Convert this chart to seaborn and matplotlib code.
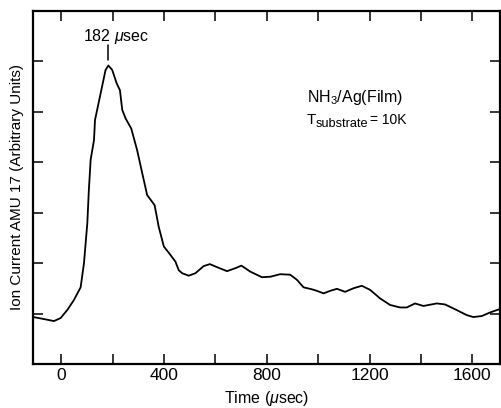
import numpy as np
import pandas as pd
import matplotlib
matplotlib.use("Agg")
import matplotlib.pyplot as plt
import seaborn as sns

# values (time in usec, ion current in arbitrary units)
time_us = [-109, -68, -29, -3, 23, 49, 75, 88, 101, 107, 114, 127, 131, 153, 172,
           183, 198, 215, 228, 237, 250, 272, 295, 315, 334, 363, 379, 399, 425,
           444, 457, 470, 496, 522, 554, 578, 606, 645, 678, 701, 736, 781, 814,
           852, 891, 917, 943, 976, 995, 1021, 1047, 1073, 1105, 1137, 1170, 1202,
           1241, 1280, 1319, 1345, 1377, 1410, 1462, 1494, 1539, 1578, 1604, 1637,
           1669, 1708]
ion_current = [0.93, 0.89, 0.85, 0.91, 1.07, 1.27, 1.52, 2.00, 2.79, 3.45, 4.05,
               4.44, 4.84, 5.37, 5.83, 5.92, 5.83, 5.57, 5.43, 5.04, 4.87, 4.67,
               4.24, 3.78, 3.35, 3.15, 2.72, 2.33, 2.16, 2.03, 1.86, 1.80, 1.75,
               1.80, 1.94, 1.98, 1.92, 1.84, 1.90, 1.95, 1.83, 1.72, 1.73, 1.78,
               1.77, 1.67, 1.52, 1.48, 1.45, 1.40, 1.45, 1.49, 1.43, 1.50, 1.55,
               1.47, 1.30, 1.17, 1.12, 1.12, 1.20, 1.15, 1.20, 1.18, 1.07, 0.97,
               0.93, 0.95, 1.02, 1.09]
x_ticks = [0, 400, 800, 1200, 1600]
x_minor = [200, 600, 1000, 1400]
y_ticks = [1, 2, 3, 4, 5, 6]
peak_time = 182

df = pd.DataFrame({"time": time_us, "current": ion_current})

sns.set_theme(style="ticks")
plt.rcParams["font.family"] = ["Liberation Sans", "DejaVu Sans"]
plt.rcParams["mathtext.fontset"] = "custom"
plt.rcParams["mathtext.it"] = "Liberation Sans:italic"
plt.rcParams["mathtext.rm"] = "Liberation Sans"
plt.rcParams["text.color"] = "black"
plt.rcParams["axes.labelcolor"] = "black"
plt.rcParams["xtick.color"] = "black"
plt.rcParams["ytick.color"] = "black"

fig = plt.figure(figsize=(5.02, 4.08), dpi=100)
ax = fig.add_axes([0.066, 0.108, 0.931, 0.865])

sns.lineplot(data=df, x="time", y="current", ax=ax, color="black", linewidth=1.3)

ax.set_xlim(-110, 1710)
ax.set_ylim(0, 7)
ax.set_xticks(x_ticks)
ax.set_xticks(x_minor, minor=True)
ax.set_xticklabels([str(v) for v in x_ticks], fontsize=12.5)
ax.set_yticks(y_ticks)
ax.set_yticklabels([])
ax.tick_params(which="both", direction="in", length=7.5, width=1.1,
               top=True, right=True, color="black", labelcolor="black", pad=3)

for s in ax.spines.values():
    s.set_linewidth(1.6)
    s.set_color("black")

ax.set_xlabel("Time ($\\mu$sec)", fontsize=11.5)
ax.xaxis.set_label_coords(0.5, -0.072)
ax.set_ylabel("Ion Current AMU 17 (Arbitrary Units)", fontsize=11)
ax.yaxis.set_label_coords(-0.020, 0.5)

# peak marker
ax.plot([peak_time, peak_time], [6.02, 6.32], color="black", linewidth=1.1)
ax.text(215, 6.5, "182 $\\mu$sec", ha="center", va="center", fontsize=11.5)

ax.text(956, 5.20, "NH$_3$/Ag(Film)", ha="left", va="baseline", fontsize=11.5)
ax.text(956, 4.76, "T", ha="left", va="baseline", fontsize=10.8)
ax.text(990, 4.69, "substrate", ha="left", va="baseline", fontsize=9.2)
ax.text(1200, 4.76, "= 10K", ha="left", va="baseline", fontsize=10)

ax.set_facecolor("white")
fig.savefig("out.png", dpi=100)
